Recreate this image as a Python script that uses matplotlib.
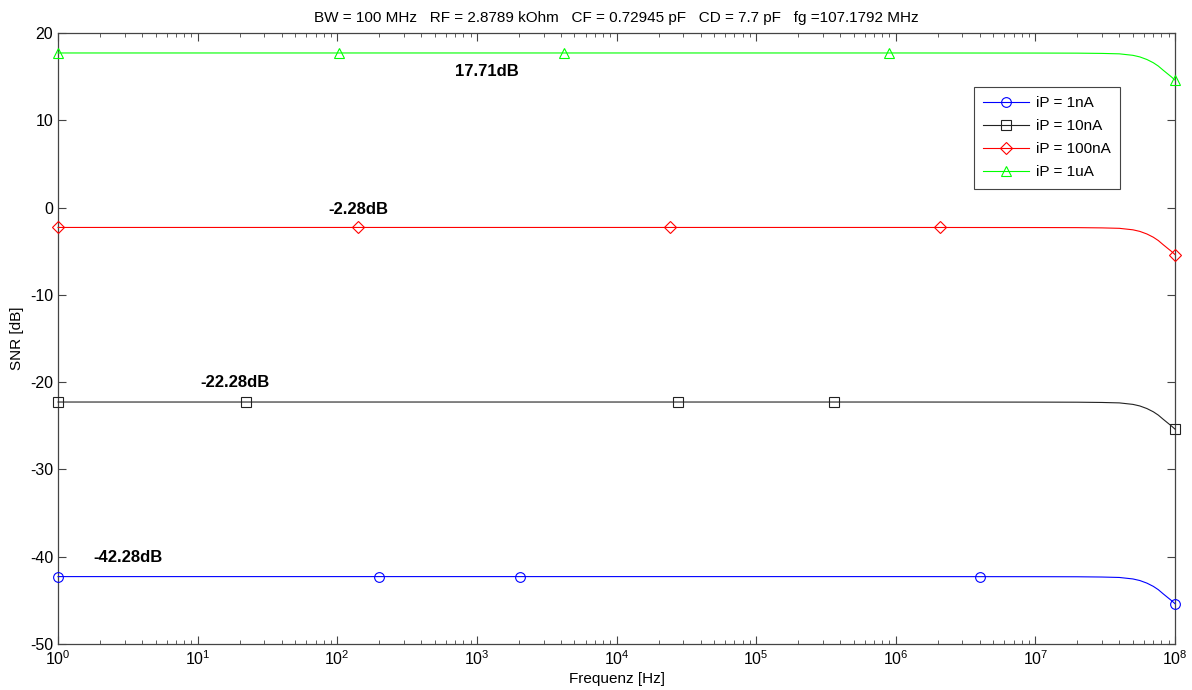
import numpy as np
import matplotlib
matplotlib.use('Agg')
import matplotlib.pyplot as plt
from matplotlib.ticker import LogLocator, FixedLocator

plt.rcParams['font.family'] = ['Liberation Sans', 'DejaVu Sans']
plt.rcParams['mathtext.fontset'] = 'custom'
plt.rcParams['mathtext.rm'] = 'Liberation Sans'
plt.rcParams['mathtext.it'] = 'Liberation Sans'
plt.rcParams['axes.unicode_minus'] = False

# Daten
labels = ['iP = 1nA', 'iP = 10nA', 'iP = 100nA', 'iP = 1uA']
colors = ['#0000ff', '#222222', '#ff0000', '#00ff00']
markers = ['o', 's', 'D', '^']
snr_flat = [-42.28, -22.28, -2.28, 17.71]
snr_text = ['-42.28dB', '-22.28dB', '-2.28dB', '17.71dB']

# Abfall des SNR bei hohen Frequenzen (fuer alle Kurven gleich)
f_curve = [1, 1e6, 1e7, 2e7, 3e7, 4e7, 5e7, 5.6e7, 6.3e7, 7e7, 7.6e7, 8.2e7, 8.8e7, 9.4e7, 1e8]
drop = [0, 0, 0.01, 0.02, 0.05, 0.1, 0.27, 0.45, 0.75, 1.12, 1.5, 1.95, 2.35, 2.72, 3.1]

# Markerpositionen je Kurve
f_mark = [
    [1, 199, 2040, 4.0e6, 1e8],
    [1, 22.2, 2.76e4, 3.62e5, 1e8],
    [1, 141, 2.42e4, 2.08e6, 1e8],
    [1, 103, 4217, 8.97e5, 1e8],
]
text_pos = [(1.78, -40.14), (10.4, -20.09), (86, -0.27), (698, 15.53)]

fig = plt.figure(figsize=(11.92, 6.9), dpi=100)
ax = fig.add_axes([0.0487, 0.0667, 0.9370, 0.8855])

for i in range(4):
    f_all = np.array(sorted(set(f_curve) | set(f_mark[i])))
    d_all = np.interp(np.log10(f_all), np.log10(f_curve), drop)
    y_all = snr_flat[i] - d_all
    idx = [int(np.where(f_all == fm)[0][0]) for fm in f_mark[i]]
    ax.plot(f_all, y_all, color=colors[i], lw=0.8, marker=markers[i],
            markevery=idx, markersize=7 if markers[i] != 'D' else 6,
            markerfacecolor='none', markeredgewidth=0.8, label=labels[i],
            clip_on=False, zorder=3)
    ax.text(text_pos[i][0], text_pos[i][1], snr_text[i], fontsize=12,
            fontweight='bold', va='center', ha='left')

ax.set_xscale('log')
ax.set_xlim(1, 1e8)
ax.set_ylim(-50, 20)
ax.set_yticks(np.arange(-50, 21, 10))
ax.xaxis.set_major_locator(FixedLocator([10.0 ** k for k in range(9)]))
ax.xaxis.set_minor_locator(LogLocator(base=10, subs=np.arange(2, 10), numticks=20))
ax.set_xticklabels([r'$10^{%d}$' % k for k in range(9)])

ax.tick_params(which='both', direction='in', top=True, right=True, labelsize=11.5,
               color='#444444')
ax.tick_params(which='major', length=6)
ax.tick_params(which='minor', length=3)
for s in ax.spines.values():
    s.set_color('#444444')
    s.set_linewidth(0.9)

ax.set_xlabel('Frequenz [Hz]', fontsize=11, labelpad=3)
ax.set_ylabel('SNR [dB]', fontsize=11, labelpad=4)
ax.set_title('BW = 100 MHz   RF = 2.8789 kOhm   CF = 0.72945 pF   CD = 7.7 pF   fg =107.1792 MHz',
             fontsize=11, pad=8)

leg = ax.legend(loc='upper right', bbox_to_anchor=(0.951, 0.912), borderaxespad=0,
                fontsize=11, fancybox=False, framealpha=1, edgecolor='#444444',
                handlelength=3, borderpad=0.6, labelspacing=0.6, handletextpad=0.5)
leg.get_frame().set_linewidth(0.8)

fig.savefig('out.png', dpi=100)
